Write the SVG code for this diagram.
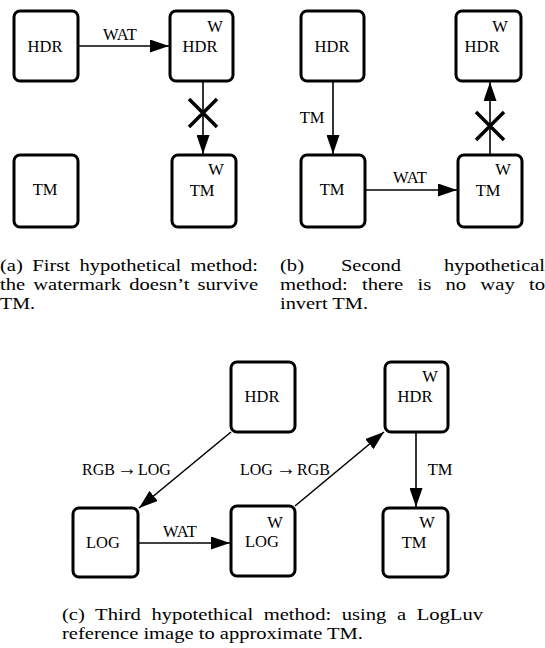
<svg xmlns="http://www.w3.org/2000/svg" width="545" height="648" viewBox="0 0 545 648">
<style>
.box{fill:#fff;stroke:#000;stroke-width:3;}
.t{font-size:16.5px;fill:#000;text-anchor:middle;}
.lb{font-size:16px;fill:#000;}
.cap{font-size:17px;fill:#000;}
.ln{stroke:#000;stroke-width:1.6;fill:none;}
.x{stroke:#000;stroke-width:3.5;fill:none;}
</style>
<defs>
<marker id="ah" markerUnits="userSpaceOnUse" markerWidth="19" markerHeight="13" refX="19" refY="6.5" orient="auto">
<path d="M0,0 L19,6.5 L0,13 z" fill="#000"/>
</marker>
</defs>
<rect width="545" height="648" fill="#fff"/>

<g font-family="Liberation Serif, Times New Roman, Times, serif">
<g id="connectors">
<line class="ln" x1="78" y1="46" x2="169" y2="46" marker-end="url(#ah)"/>
<line class="ln" x1="203" y1="81" x2="203" y2="154" marker-end="url(#ah)"/>
<path class="x" d="M189,99 L217,127 M217,99 L189,127"/>
<line class="ln" x1="333" y1="81" x2="333" y2="154" marker-end="url(#ah)"/>
<line class="ln" x1="365" y1="190" x2="457" y2="190" marker-end="url(#ah)"/>
<line class="ln" x1="490" y1="155" x2="490" y2="82" marker-end="url(#ah)"/>
<path class="x" d="M476,112 L504,140 M504,112 L476,140"/>
<line class="ln" x1="231" y1="432" x2="139" y2="508" marker-end="url(#ah)"/>
<line class="ln" x1="138" y1="543" x2="230" y2="543" marker-end="url(#ah)"/>
<line class="ln" x1="295" y1="506" x2="384" y2="432" marker-end="url(#ah)"/>
<line class="ln" x1="416" y1="432" x2="416" y2="507" marker-end="url(#ah)"/>
<text class="t" x="120" y="40">WAT</text>
<text class="t" x="312" y="123">TM</text>
<text class="t" x="410" y="183">WAT</text>
<text class="lb" y="475"><tspan x="82">RGB</tspan><tspan x="117" font-size="20">→</tspan><tspan x="138">LOG</tspan></text>
<text class="t" x="180" y="537">WAT</text>
<text class="lb" y="475"><tspan x="240">LOG</tspan><tspan x="276" font-size="20">→</tspan><tspan x="297">RGB</tspan></text>
<text class="t" x="440" y="475">TM</text>
</g>

<g id="a_hdr"><rect class="box" x="14" y="11" width="64" height="70" rx="6"/><text class="t" x="45" y="52">HDR</text></g>
<g id="a_hdrw"><rect class="box" x="170" y="11" width="63" height="70" rx="6"/><text class="t" x="215" y="32">W</text><text class="t" x="200" y="52">HDR</text></g>
<g id="a_tm"><rect class="box" x="14" y="155" width="64" height="72" rx="6"/><text class="t" x="45" y="195">TM</text></g>
<g id="a_tmw"><rect class="box" x="172" y="155" width="64" height="72" rx="6"/><text class="t" x="216" y="175">W</text><text class="t" x="202" y="196">TM</text></g>

<g id="b_hdr"><rect class="box" x="301" y="11" width="63" height="70" rx="6"/><text class="t" x="332" y="52">HDR</text></g>
<g id="b_tm"><rect class="box" x="301" y="155" width="64" height="72" rx="6"/><text class="t" x="332" y="195">TM</text></g>
<g id="b_tmw"><rect class="box" x="458" y="155" width="64" height="72" rx="6"/><text class="t" x="503" y="175">W</text><text class="t" x="488" y="196">TM</text></g>
<g id="b_hdrw"><rect class="box" x="456" y="11" width="65" height="70" rx="6"/><text class="t" x="500" y="32">W</text><text class="t" x="482" y="52">HDR</text></g>

<g id="c_hdr"><rect class="box" x="231" y="362" width="64" height="70" rx="6"/><text class="t" x="262" y="402">HDR</text></g>
<g id="c_hdrw"><rect class="box" x="385" y="362" width="63" height="70" rx="6"/><text class="t" x="430" y="382">W</text><text class="t" x="415" y="402">HDR</text></g>
<g id="c_log"><rect class="box" x="73" y="508" width="65" height="69" rx="6"/><text class="t" x="103" y="548">LOG</text></g>
<g id="c_logw"><rect class="box" x="231" y="506" width="64" height="70" rx="6"/><text class="t" x="275" y="528">W</text><text class="t" x="262" y="547">LOG</text></g>
<g id="c_tmw"><rect class="box" x="383" y="508" width="65" height="69" rx="6"/><text class="t" x="427" y="528">W</text><text class="t" x="414" y="548">TM</text></g>

<g id="captions">
<text class="cap" x="0" y="271" word-spacing="3.6" textLength="258" lengthAdjust="spacingAndGlyphs">(a) First hypothetical method:</text>
<text class="cap" x="0" y="290" word-spacing="2.5" textLength="258" lengthAdjust="spacingAndGlyphs">the watermark doesn’t survive</text>
<text class="cap" x="0" y="309" textLength="35" lengthAdjust="spacingAndGlyphs">TM.</text>
<text class="cap" x="280" y="271" textLength="24" lengthAdjust="spacingAndGlyphs">(b)</text>
<text class="cap" x="341" y="271" textLength="60" lengthAdjust="spacingAndGlyphs">Second</text>
<text class="cap" x="444" y="271" textLength="101" lengthAdjust="spacingAndGlyphs">hypothetical</text>
<text class="cap" x="280" y="290" word-spacing="7.4" textLength="265" lengthAdjust="spacingAndGlyphs">method: there is no way to</text>
<text class="cap" x="280" y="309" textLength="88" lengthAdjust="spacingAndGlyphs">invert TM.</text>
<text class="cap" x="62" y="620" word-spacing="4.5" textLength="421" lengthAdjust="spacingAndGlyphs">(c) Third hypotethical method: using a LogLuv</text>
<text class="cap" x="62" y="639" textLength="301" lengthAdjust="spacingAndGlyphs">reference image to approximate TM.</text>
</g>
</g>
</svg>
